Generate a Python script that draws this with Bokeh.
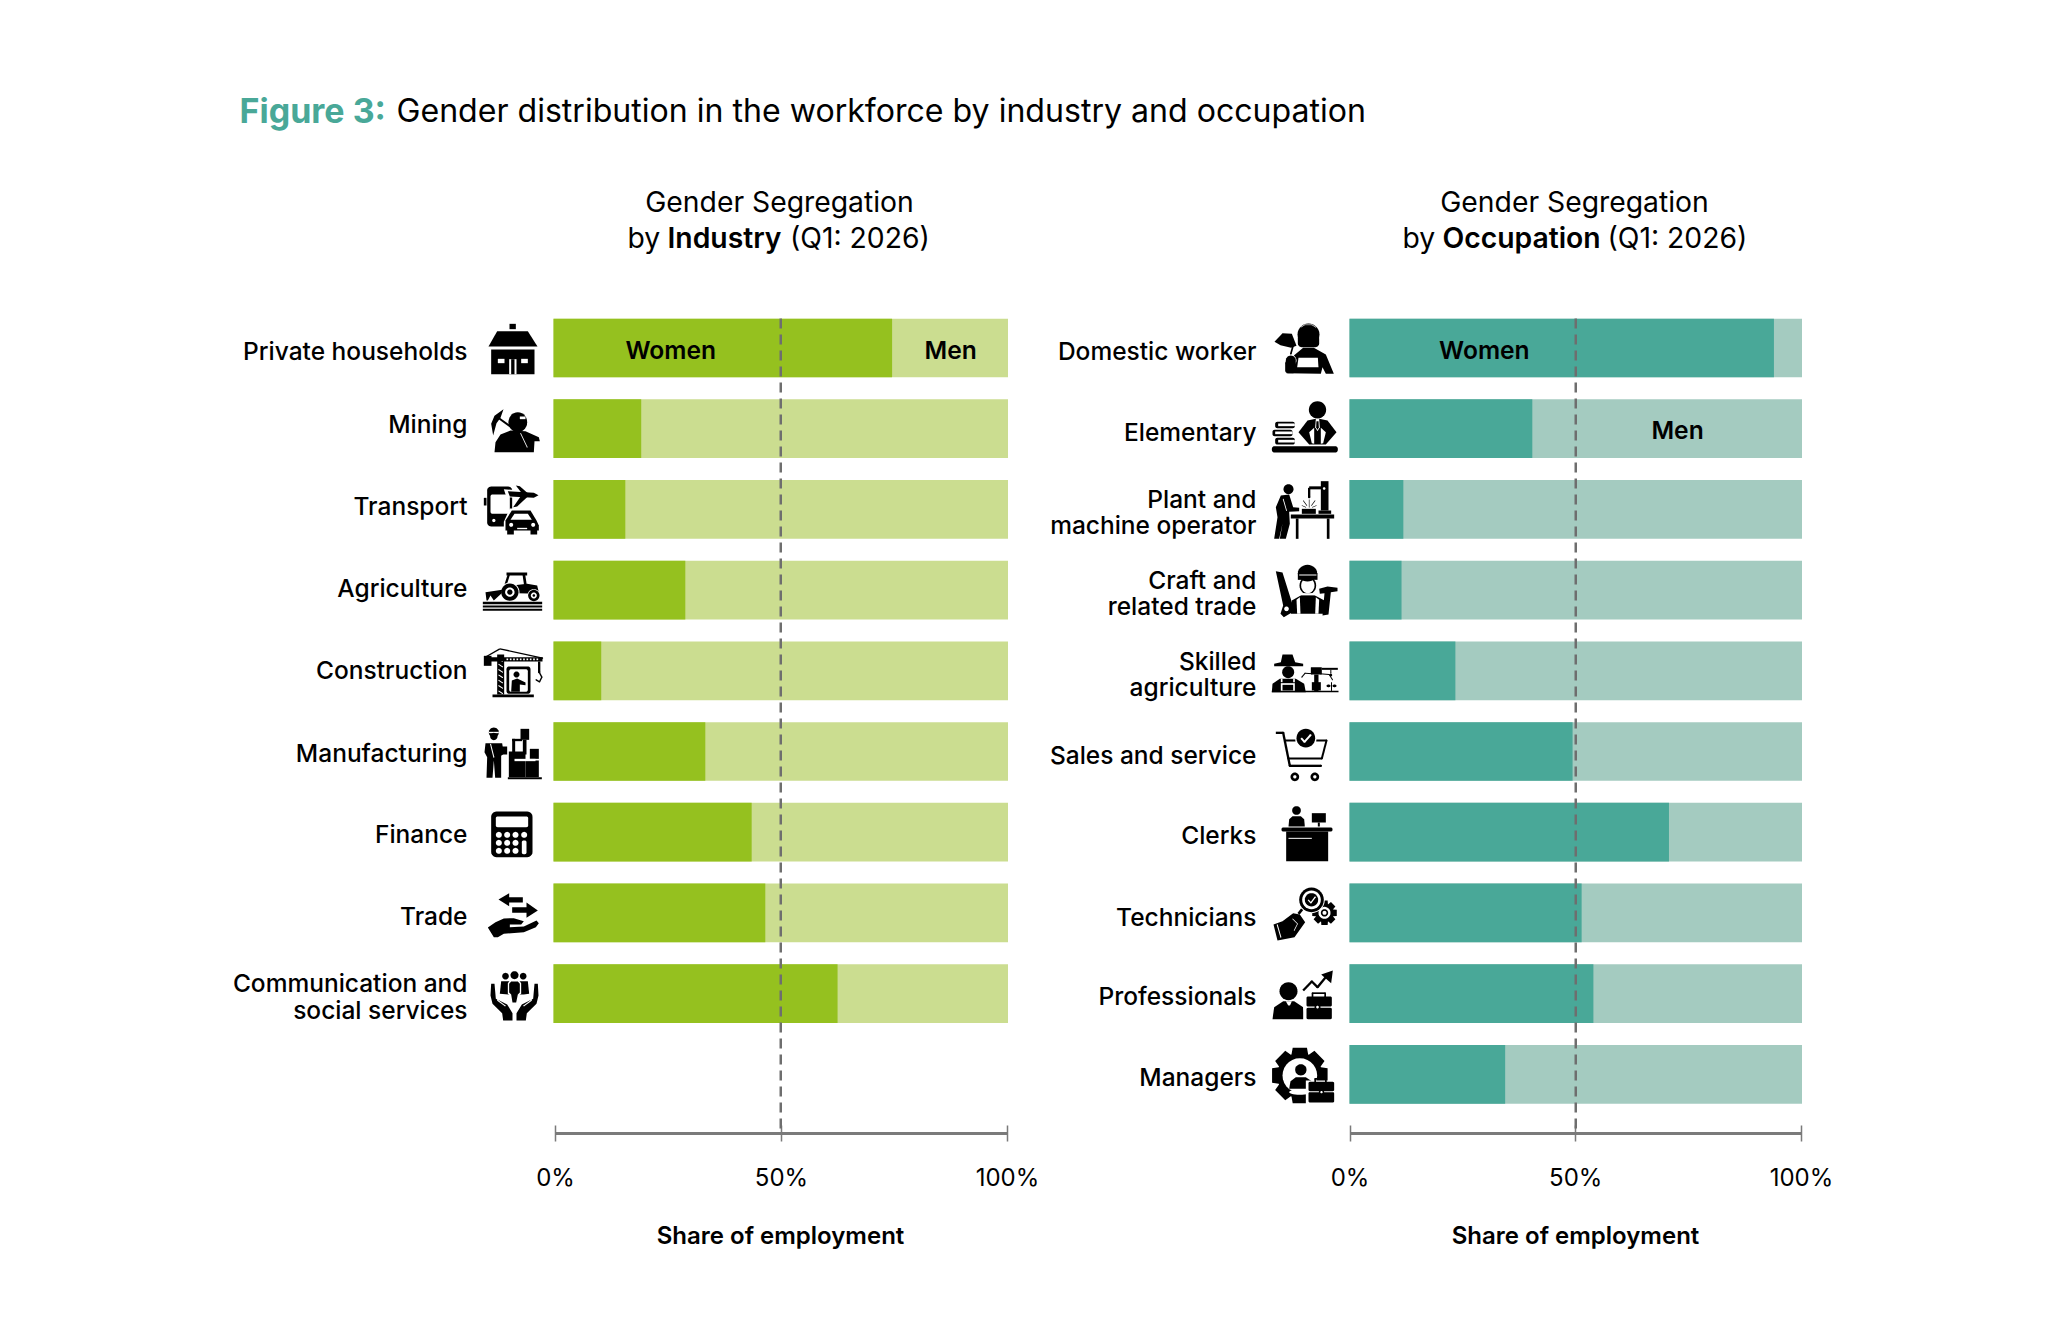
import math
from bokeh.plotting import figure
from bokeh.layouts import column, row
from bokeh.models import Range1d, LinearAxis, FixedTicker, ColumnDataSource, Arrow
from bokeh.core.properties import value
from bokeh.embed import file_html
from bokeh.resources import INLINE

# ---------- data ----------
industries = ["Private households", "Mining", "Transport", "Agriculture", "Construction",
              "Manufacturing", "Finance", "Trade", "Communication and\nsocial services"]
industry_women = [74.5, 19.3, 15.8, 29.0, 10.5, 33.4, 43.6, 46.6, 62.5]
occupations = ["Domestic worker", "Elementary", "Plant and\nmachine operator", "Craft and\nrelated trade",
               "Skilled\nagriculture", "Sales and service", "Clerks", "Technicians", "Professionals", "Managers"]
occupation_women = [93.8, 40.4, 11.9, 11.5, 23.4, 49.3, 70.6, 51.3, 53.9, 34.4]
tick_values = [0, 50, 100]
tick_labels = ["0%", "50%", "100%"]

# ---------- style ----------
FONT = "Inter"
MED = "Inter Medium"
SEMI = "Inter SemiBold"
GREEN, GREEN_L = "#95C11F", "#CBDD90"
TEAL, TEAL_L = "#49A898", "#A4CBC0"
GREY = "#6E6E6E"
TOP_H = 160
PANEL_TOP, PANEL_BOTTOM, AXIS_Y = 160, 1205, 1133
ROW0, PITCH = 347.5, 80.7


class Icon:
    """Small pictograms built from simple shapes; coordinates are 3x crop units."""
    def __init__(self):
        self.xs, self.ys, self.cs = [], [], []
        self.ox, self.oy = 0, 0

    def org(self, x, y):
        self.ox, self.oy = x, y

    def P(self, pts, c="black"):
        self.xs.append([self.ox + a / 3 for a, _ in pts])
        self.ys.append([self.oy + b / 3 for _, b in pts])
        self.cs.append(c)

    def R(self, x0, y0, x1, y1, c="black", r=0):
        if r == 0:
            self.P([(x0, y0), (x1, y0), (x1, y1), (x0, y1)], c)
            return
        pts = []
        for cx, cy, a0 in [(x1 - r, y0 + r, -90), (x1 - r, y1 - r, 0), (x0 + r, y1 - r, 90), (x0 + r, y0 + r, 180)]:
            for k in range(7):
                a = math.radians(a0 + 15 * k)
                pts.append((cx + r * math.cos(a), cy + r * math.sin(a)))
        self.P(pts, c)

    def C(self, cx, cy, r, c="black", ry=None):
        ry = r if ry is None else ry
        self.P([(cx + r * math.cos(i / 28 * 2 * math.pi), cy + ry * math.sin(i / 28 * 2 * math.pi)) for i in range(28)], c)

    def L(self, pts, w, c="black"):
        for (a, b), (d, e) in zip(pts, pts[1:]):
            n = math.hypot(d - a, e - b) or 1
            ux, uy = -(e - b) / n * w / 2, (d - a) / n * w / 2
            self.P([(a + ux, b + uy), (d + ux, e + uy), (d - ux, e - uy), (a - ux, b - uy)], c)
            self.C(d, e, w / 2, c)

    def G(self, cx, cy, ro, ri, n, c="black"):
        pts = []
        step = 2 * math.pi / n
        for i in range(n):
            a = i * step
            for da, r in [(-0.30, ri), (-0.20, ro), (0.20, ro), (0.30, ri)]:
                pts.append((cx + r * math.cos(a + da * step * 1.6), cy + r * math.sin(a + da * step * 1.6)))
        self.P(pts, c)


def industry_icons():
    I = Icon()
    I.org(470, 310)
    # house
    I.R(117, 40, 136, 56)
    I.P([(80, 62), (172, 62), (201, 108), (54, 108)])
    I.R(62, 117, 192, 191)
    I.R(82, 145, 102, 158, "white")
    I.R(152, 145, 172, 158, "white")
    I.R(116, 146, 138, 191, "white")
    I.R(122, 146, 132, 191)
    # miner
    I.P([(99, 296), (72, 316), (62, 340), (68, 375), (78, 338), (90, 322)])
    I.L([(78, 318), (122, 350)], 6)
    I.C(142, 335, 28, ry=30)
    I.R(115, 330, 168, 345)
    I.R(148, 318, 165, 326, "white")
    I.P([(72, 425), (75, 395), (90, 372), (120, 360), (165, 362), (205, 380), (208, 392), (192, 392), (190, 425)])
    I.L([(150, 368), (170, 410)], 2.5, "white")
    # transport
    I.R(50, 528, 125, 648, r=12)
    I.R(40, 562, 48, 585)
    I.R(60, 552, 118, 610, "white", r=6)
    I.P([(100, 536), (192, 543), (206, 554), (190, 566), (108, 560)], "white")
    I.P([(112, 542), (190, 547), (204, 554), (190, 562), (118, 558)])
    I.P([(136, 525), (148, 527), (172, 548), (154, 548)])
    I.P([(128, 590), (150, 558), (172, 558), (140, 588)])
    I.C(70, 630, 5, "white")
    I.P([(100, 634), (118, 594), (186, 594), (210, 634), (210, 672), (100, 672)], "white")
    I.P([(105, 630), (124, 600), (180, 600), (198, 630), (205, 645), (205, 660), (105, 660)])
    I.R(110, 655, 130, 672)
    I.R(180, 655, 200, 672)
    I.P([(120, 628), (132, 610), (172, 610), (184, 628)], "white")
    I.C(122, 643, 6, "white")
    I.C(188, 643, 6, "white")
    I.R(140, 652, 170, 656, "white")

    I.org(470, 550)
    # tractor
    I.R(108, 66, 170, 75)
    I.L([(115, 72), (103, 110)], 7)
    I.L([(160, 72), (165, 105)], 8)
    I.P([(100, 108), (170, 100), (200, 105), (206, 130), (140, 128), (98, 125)])
    I.C(118, 125, 29, "white")
    I.C(118, 125, 26)
    I.C(118, 125, 14, "white")
    I.C(118, 125, 8)
    I.C(190, 135, 19, "white")
    I.C(190, 135, 17)
    I.C(190, 135, 9, "white")
    I.C(190, 135, 4)
    I.P([(45, 125), (95, 118), (92, 130), (70, 150), (60, 135), (52, 150), (48, 150)])
    I.R(37, 154, 215, 161)
    I.R(37, 165, 215, 171)
    I.R(37, 175, 215, 181)
    # crane
    I.R(80, 312, 101, 432)
    for y in range(325, 428, 16):
        I.L([(84, y), (96, y + 8)], 3, "white")
    I.L([(88, 295), (216, 323)], 4)
    I.L([(88, 295), (48, 318)], 4)
    I.R(58, 320, 216, 333)
    for x in range(108, 206, 10):
        I.R(x, 324, x + 5, 329, "white")
    I.R(40, 316, 63, 346)
    I.L([(206, 333), (206, 365)], 7)
    I.L([(206, 365), (214, 380), (207, 394), (197, 388)], 4)
    I.R(66, 432, 190, 440)
    I.R(108, 348, 180, 430, r=8)
    I.R(116, 356, 172, 424, "white", r=6)
    I.C(138, 372, 9)
    I.P([(122, 424), (124, 390), (140, 384), (165, 396), (165, 404), (148, 402), (148, 424)])
    # manufacturing
    I.C(70, 546, 15)
    I.R(55, 544, 85, 548, "white")
    I.C(70, 558, 11)
    I.P([(42, 605), (45, 578), (95, 578), (100, 610), (92, 616), (92, 682), (74, 682), (70, 630), (66, 682), (48, 682), (50, 620)])
    I.R(80, 588, 110, 612)
    I.L([(60, 580), (70, 620)], 3, "white")
    I.R(150, 535, 176, 568)
    I.R(157, 568, 168, 612)
    I.R(125, 565, 155, 572)
    I.R(125, 565, 134, 605)
    I.R(115, 603, 165, 680)
    I.R(165, 630, 205, 680)
    I.R(178, 595, 205, 625)
    I.R(112, 680, 214, 686)
    I.R(132, 625, 195, 632, "white")

    I.org(470, 790)
    # calculator
    I.R(62, 63, 186, 200, r=16)
    I.R(76, 78, 173, 110, "white", r=5)
    for y in (133, 157, 181):
        for x in (85, 110, 135):
            I.C(x, y, 9, "white")
    I.C(161, 133, 9, "white")
    I.R(154, 150, 168, 191, "white", r=5)
    # trade
    I.P([(84, 327), (116, 308), (116, 320), (157, 320), (157, 336), (116, 336), (116, 347)])
    I.P([(202, 360), (168, 336), (168, 350), (125, 350), (125, 367), (168, 367), (168, 382)])
    I.P([(52, 411), (75, 395), (100, 384), (130, 383), (160, 392), (152, 402), (118, 402), (118, 410), (160, 408),
         (198, 390), (205, 398), (196, 410), (160, 425), (100, 430), (82, 440), (70, 440)])
    # communication
    I.C(105, 557, 10)
    I.C(158, 557, 10)
    I.P([(88, 610), (92, 572), (172, 572), (176, 610), (160, 612), (148, 612), (114, 612)])
    I.C(132, 554, 12)
    I.P([(112, 610), (112, 578), (118, 570), (146, 570), (152, 578), (152, 610), (145, 615), (140, 640), (122, 640), (118, 615)], "white")
    I.P([(116, 606), (116, 580), (122, 573), (142, 573), (148, 580), (148, 606), (142, 612), (137, 636), (126, 636), (122, 612)])
    I.P([(62, 580), (72, 580), (76, 625), (110, 642), (126, 668), (126, 690), (98, 690), (95, 668), (66, 640), (60, 615)])
    I.P([(202, 580), (192, 580), (188, 625), (154, 642), (138, 668), (138, 690), (166, 690), (169, 668), (198, 640), (204, 615)])
    I.L([(80, 606), (82, 630), (104, 646)], 3, "white")
    I.L([(184, 606), (182, 630), (160, 646)], 3, "white")
    return I


def occupation_icons():
    I = Icon()
    I.org(1262, 310)
    # domestic worker
    I.C(138, 72, 33)
    I.R(106, 72, 170, 110, r=12)
    I.L([(115, 50), (127, 43), (148, 43), (160, 50)], 1.8, "white")
    I.P([(72, 188), (95, 134), (122, 112), (154, 112), (190, 132), (214, 190), (190, 190), (180, 170), (175, 190)])
    I.P([(108, 142), (166, 142), (168, 170), (104, 170)], "white")
    I.P([(36, 94), (60, 68), (88, 70), (102, 106), (86, 112), (54, 104)])
    I.L([(92, 105), (85, 130)], 5)
    I.C(85, 150, 17, "white")
    I.C(85, 150, 15)
    I.R(68, 150, 100, 188, r=8)
    # elementary
    I.C(165, 298, 26)
    I.P([(108, 365), (135, 330), (160, 325), (170, 325), (195, 330), (222, 365), (190, 402), (140, 402)])
    I.P([(160, 325), (170, 325), (172, 350), (165, 362), (158, 350)], "white")
    I.P([(162, 332), (168, 332), (169, 350), (165, 358), (161, 350)])
    I.P([(140, 365), (155, 352), (155, 400), (148, 398)], "white")
    I.P([(190, 365), (175, 352), (175, 400), (182, 398)], "white")
    I.R(38, 334, 97, 353, r=6)
    I.R(47, 339, 97, 347, "white")
    I.R(30, 358, 90, 377, r=6)
    I.R(38, 363, 90, 371, "white")
    I.R(38, 382, 97, 402, r=6)
    I.R(47, 388, 97, 396, "white")
    I.R(28, 407, 226, 426, r=8)
    # plant operator
    I.C(78, 536, 15)
    I.P([(55, 555), (80, 552), (92, 590), (110, 592), (110, 602), (80, 604), (82, 640), (70, 685), (52, 685), (60, 640), (50, 685), (35, 685), (45, 620), (40, 590)])
    I.L([(62, 565), (72, 600)], 2.5, "white")
    I.R(85, 612, 215, 624)
    I.R(100, 624, 108, 685)
    I.R(193, 624, 201, 685)
    I.R(175, 512, 198, 600)
    I.R(168, 600, 206, 610)
    I.L([(140, 532), (185, 532)], 9)
    I.L([(140, 532), (140, 560)], 7)
    I.C(185, 534, 4, "white")
    I.R(118, 595, 160, 610)
    for a, b, d, e in [(140, 567, 140, 590), (122, 570, 133, 585), (158, 570, 147, 585), (118, 585, 130, 590), (162, 585, 150, 590)]:
        I.L([(a, b), (d, e)], 1.8)

    I.org(1262, 550)
    # craft
    I.P([(40, 62), (60, 66), (92, 168), (98, 180), (64, 200), (54, 190), (62, 165)])
    I.C(72, 175, 7, "white")
    I.C(136, 105, 25, ry=27)
    I.C(136, 105, 20, "white", ry=23)
    I.C(135, 68, 29, ry=25)
    I.R(106, 68, 165, 88)
    I.R(110, 72, 162, 75, "white")
    I.P([(85, 190), (88, 150), (116, 134), (136, 134), (156, 134), (186, 150), (190, 190)])
    I.P([(102, 148), (112, 140), (114, 190), (104, 190)], "white")
    I.P([(170, 148), (160, 140), (158, 190), (168, 190)], "white")
    I.R(112, 128, 160, 134, "white")
    I.P([(170, 115), (195, 108), (225, 112), (225, 122), (205, 125), (198, 192), (180, 195), (186, 128), (172, 130)])
    # skilled agriculture
    I.P([(35, 340), (55, 335), (60, 312), (90, 312), (98, 335), (122, 340), (122, 347), (35, 347)])
    I.C(77, 365, 18)
    I.P([(28, 425), (30, 400), (52, 385), (100, 385), (125, 400), (130, 425)])
    I.R(55, 385, 60, 395, "white")
    I.R(92, 385, 97, 395, "white")
    I.R(55, 398, 97, 425, "white")
    I.R(60, 403, 92, 420)
    I.R(145, 350, 178, 372, r=2)
    I.R(178, 352, 226, 358)
    I.R(155, 372, 168, 422)
    I.R(148, 395, 175, 420)
    I.L([(150, 370), (128, 368), (118, 380)], 3)
    I.L([(172, 370), (200, 372), (210, 388)], 3)
    I.L([(205, 358), (205, 368)], 3)
    I.C(205, 374, 4)
    I.L([(207, 395), (207, 420)], 3)
    I.C(198, 406, 6, ry=4)
    I.C(216, 406, 6, ry=4)
    I.R(28, 421, 228, 425)
    # cart
    I.L([(40, 547), (62, 547), (82, 646), (175, 646)], 7)
    I.L([(66, 570), (192, 570), (178, 624), (78, 624)], 6)
    I.C(130, 565, 32, "white")
    I.C(130, 563, 28)
    I.L([(116, 563), (126, 574), (144, 554)], 6, "white")
    I.C(97, 679, 13)
    I.C(97, 679, 5, "white")
    I.C(157, 679, 13)
    I.C(157, 679, 5, "white")

    I.org(1262, 790)
    # clerks
    I.C(102, 60, 13)
    I.P([(78, 108), (80, 86), (90, 77), (115, 77), (125, 86), (127, 108)])
    I.R(148, 68, 190, 96)
    I.R(166, 96, 172, 108)
    I.R(57, 111, 210, 123, r=5)
    I.R(71, 123, 197, 212)
    I.R(78, 142, 148, 145, "white")
    # technicians
    I.P([(33, 402), (60, 392), (92, 368), (112, 372), (128, 395), (96, 440), (45, 450)])
    I.L([(44, 402), (55, 440)], 3, "white")
    I.L([(90, 385), (105, 400), (95, 420)], 2, "white")
    I.L([(108, 370), (124, 350)], 8)
    I.C(186, 367, 33, "white")
    I.G(186, 367, 38, 28, 8)
    I.C(186, 367, 18, "white")
    I.C(186, 367, 11)
    I.C(186, 367, 6, "white")
    I.C(147, 328, 40, "white")
    I.C(147, 328, 37)
    I.C(147, 328, 28, "white")
    I.C(147, 328, 20)
    I.L([(137, 328), (145, 337), (158, 320)], 4, "white")
    # professionals
    I.C(78, 602, 27)
    I.P([(30, 686), (35, 650), (62, 632), (95, 632), (122, 650), (128, 686)])
    I.P([(70, 632), (88, 632), (80, 650)], "white")
    I.P([(76, 645), (83, 645), (86, 675), (79, 682), (73, 675)])
    I.L([(122, 600), (148, 573), (165, 590), (192, 557)], 7)
    I.P([(176, 552), (211, 540), (206, 578)])
    I.R(122, 620, 214, 690, "white")
    I.L([(150, 620), (150, 608), (188, 608), (188, 620)], 5)
    I.R(132, 618, 208, 648, r=4)
    I.R(132, 652, 208, 686, r=4)
    I.C(165, 650, 9)
    I.C(165, 650, 4, "white")
    # managers
    I.G(112, 855, 86, 68, 8)
    I.C(112, 855, 52, "white")
    I.C(115, 838, 17)
    I.P([(80, 895), (84, 872), (100, 860), (130, 860), (148, 872), (150, 895)])
    I.C(112, 905, 32, "white", ry=8)
    I.R(130, 870, 222, 942, "white")
    I.L([(158, 875), (158, 865), (190, 865), (190, 875)], 5)
    I.R(138, 874, 215, 902, r=4)
    I.R(138, 905, 215, 936, r=4)
    I.C(177, 905, 8)
    I.C(177, 905, 3.5, "white")
    return I


def panel(cats, women, left, right, base, men, page_x0, page_x1, frame_x0, frame_x1, ax0, ax1,
          icons, label_right, label_dy, women_x, men_x, men_row, sub_x, center, word):
    scale = (right - left) / 100
    y_rows = list(range(len(cats)))
    p = figure(width=page_x1 - page_x0, height=PANEL_BOTTOM - PANEL_TOP, output_backend="svg",
               toolbar_location=None, x_axis_type=None, y_axis_type=None,
               x_range=Range1d((frame_x0 - left) / scale, (frame_x1 - left) / scale),
               y_range=Range1d((AXIS_Y - ROW0) / PITCH, (PANEL_TOP - ROW0) / PITCH),
               min_border_left=frame_x0 - page_x0, min_border_right=page_x1 - frame_x1,
               min_border_top=0, min_border_bottom=PANEL_BOTTOM - AXIS_Y)
    p.grid.visible = False
    p.outline_line_color = None
    p.background_fill_color = None
    p.border_fill_color = None
    ax_scale = (ax1 - ax0) / 100
    p.extra_x_ranges["axis"] = Range1d((frame_x0 - ax0) / ax_scale, (frame_x1 - ax0) / ax_scale)
    p.extra_x_ranges["px"] = Range1d(frame_x0, frame_x1)
    p.extra_y_ranges["px"] = Range1d(AXIS_Y, PANEL_TOP)

    src = ColumnDataSource(dict(y=y_rows, women=women, total=[100] * len(cats)))
    p.hbar(y="y", left=0, right="total", height=0.727, source=src, fill_color=men, line_color=None)
    p.hbar(y="y", left=0, right="women", height=0.727, source=src, fill_color=base, line_color=None)

    ax = LinearAxis(x_range_name="axis", ticker=FixedTicker(ticks=tick_values),
                    major_label_overrides=dict(zip(tick_values, tick_labels)), bounds=(0, 100),
                    major_label_text_font=FONT, major_label_text_font_size="24px", major_label_text_color="black",
                    major_label_standoff=21, axis_line_color="#7A7A7A", axis_line_width=3,
                    major_tick_line_color="#7A7A7A", major_tick_line_width=1.5, major_tick_in=8, major_tick_out=8,
                    minor_tick_line_color=None)
    p.add_layout(ax, "below")

    p.add_layout(Arrow(start=None, end=None, x_start=50, x_end=50, y_start=(318 - ROW0) / PITCH,
                       y_end=(1148 - ROW0) / PITCH, line_color=GREY, line_width=2.5, line_dash="10 6"))

    # row labels
    p.text(x=[label_right] * len(cats), y=[ROW0 + PITCH * i + d for i, d in zip(y_rows, label_dy)], text=cats,
           x_range_name="px", y_range_name="px", text_align="right", text_baseline="middle",
           text_font=value(MED), text_font_size="24.5px", text_line_height=0.88, text_color="black")
    # women / men
    p.text(x=[women_x], y=[ROW0 + 1.5], text=["Women"], text_align="center", text_baseline="middle", y_range_name="px",
           text_font=value(SEMI), text_font_size="24.6px", text_color="black")
    p.text(x=[men_x], y=[ROW0 + 1.5 + PITCH * men_row], text=["Men"], text_align="center", text_baseline="middle",
           y_range_name="px", text_font=value(SEMI), text_font_size="24.6px", text_color="black")
    # sub heading
    p.text(x=[center - 1], y=[201], text=["Gender Segregation"], x_range_name="px", y_range_name="px", text_align="center",
           text_baseline="middle", text_font=value(FONT), text_font_size="28.3px", text_color="black")
    p.text(x=[sub_x[0]], y=[237], text=["by"], x_range_name="px", y_range_name="px", text_baseline="middle",
           text_font=value(FONT), text_font_size="28.3px", text_color="black")
    p.text(x=[sub_x[1]], y=[237], text=[word], x_range_name="px", y_range_name="px", text_baseline="middle",
           text_font=value(SEMI), text_font_size="28.3px", text_color="black")
    p.text(x=[sub_x[2]], y=[237], text=["(Q1: 2026)"], x_range_name="px", y_range_name="px", text_baseline="middle",
           text_font=value(FONT), text_font_size="28.3px", text_color="black")

    isrc = ColumnDataSource(dict(xs=icons.xs, ys=icons.ys, c=icons.cs))
    p.patches("xs", "ys", source=isrc, fill_color="c", line_color=None, x_range_name="px", y_range_name="px")
    return p


left_p = panel(industries, industry_women, 553, 1007.5, GREEN, GREEN_L, 0, 1045, 225, 1040, 555, 1007,
               industry_icons(), 467, [3, -5, -3, -2.5, -1, 1.5, 2, 3.5, 3], 25.8, 87.4, 0,
               (627, 667, 789.5), 780, "Industry")
right_p = panel(occupations, occupation_women, 1349, 1801.5, TEAL, TEAL_L, 1045, 2059, 1046, 1825, 1349.5, 1801,
                occupation_icons(), 1256, [3, 3, 2.5, 3, 3, 3, 2.6, 3.6, 2, 3], 29.8, 72.5, 1,
                (1402, 1442, 1607), 1575, "Occupation")


def strip(height, y0, y1):
    f = figure(width=2059, height=height, output_backend="svg", toolbar_location=None, x_axis_type=None,
               y_axis_type=None, x_range=Range1d(0, 2059), y_range=Range1d(y1, y0), min_border=0)
    f.grid.visible = False
    f.outline_line_color = None
    return f


head = strip(TOP_H, 0, TOP_H)
head.text(x=[239], y=[110], text=["Figure 3:"], text_baseline="middle", text_font=value(FONT), text_font_style="bold",
          text_font_size="34px", text_color=TEAL)
head.text(x=[396], y=[110], text=["Gender distribution in the workforce by industry and occupation"],
          text_baseline="middle", text_font=value(FONT), text_font_size="32.1px", text_color="black")

foot = strip(115, PANEL_BOTTOM, PANEL_BOTTOM + 115)
foot.text(x=[780, 1575], y=[1235, 1235], text=["Share of employment", "Share of employment"], text_align="center",
          text_baseline="middle", text_font=value(SEMI), text_font_size="24px", text_color="black")

page = column(head, row(left_p, right_p, spacing=0), foot, spacing=0)
open("out.html", "w").write(file_html(page, INLINE))
